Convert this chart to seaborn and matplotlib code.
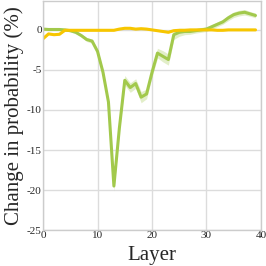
import numpy as np
import pandas as pd
import seaborn as sns
import matplotlib
matplotlib.use("Agg")
import matplotlib.pyplot as plt

layers = list(range(40))
green_vals = [0.1, 0.05, 0.05, 0.05, 0.0, -0.1, -0.3, -0.7, -1.2, -1.4,
              -2.7, -5.3, -9.0, -19.5, -12.3, -6.3, -7.2, -6.7, -8.4, -8.0,
              -5.3, -2.9, -3.3, -3.7, -0.6, -0.3, -0.2, -0.2, -0.1, 0.0,
              0.1, 0.4, 0.7, 1.0, 1.5, 1.9, 2.1, 2.2, 2.0, 1.8]
green_band = [0.15, 0.15, 0.15, 0.15, 0.15, 0.15, 0.2, 0.2, 0.25, 0.25,
              0.3, 0.3, 0.3, 0.6, 0.5, 0.6, 0.6, 0.6, 0.7, 0.6,
              0.6, 0.6, 0.7, 0.7, 0.6, 0.5, 0.4, 0.35, 0.3, 0.3,
              0.3, 0.3, 0.3, 0.3, 0.35, 0.35, 0.35, 0.35, 0.3, 0.3]
yellow_vals = [-1.1, -0.5, -0.6, -0.55, -0.05, -0.05, -0.05, -0.05, -0.05, -0.05,
               -0.05, -0.05, -0.05, -0.05, 0.1, 0.2, 0.2, 0.1, 0.15, 0.1,
               0.0, -0.1, -0.2, -0.3, -0.1, -0.05, -0.05, 0.0, 0.0, 0.0,
               0.0, 0.0, -0.05, -0.05, 0.0, 0.0, 0.0, 0.0, 0.0, 0.0]
yellow_band = [0.08] * 40

df = pd.DataFrame({"layer": layers, "green": green_vals, "yellow": yellow_vals})

sns.set_theme(style="whitegrid")
plt.rcParams["font.family"] = ["Liberation Serif", "DejaVu Serif"]

fig = plt.figure(figsize=(2.66, 2.66), dpi=100)
ax = fig.add_axes([0.162, 0.135, 0.819, 0.861])

GREEN = "#a2c94c"
YELLOW = "#f7c600"

g_lo = [v - b for v, b in zip(green_vals, green_band)]
g_hi = [v + b for v, b in zip(green_vals, green_band)]
y_lo = [v - b for v, b in zip(yellow_vals, yellow_band)]
y_hi = [v + b for v, b in zip(yellow_vals, yellow_band)]
ax.fill_between(layers, g_lo, g_hi, color=GREEN, alpha=0.3, linewidth=0)
ax.fill_between(layers, y_lo, y_hi, color=YELLOW, alpha=0.3, linewidth=0)
sns.lineplot(data=df, x="layer", y="green", color=GREEN, linewidth=2.2, ax=ax)
sns.lineplot(data=df, x="layer", y="yellow", color=YELLOW, linewidth=2.2, ax=ax)

ax.set_xlim(0, 40)
ax.set_ylim(-25, 3.6)
ax.set_xticks([0, 10, 20, 30, 40])
ax.set_yticks([0, -5, -10, -15, -20, -25])
ax.set_xticklabels(["0", "10", "20", "30", "40"])
ax.set_yticklabels(["0", "-5", "-10", "-15", "-20", "-25"])
ax.tick_params(axis="both", labelsize=8, pad=1, length=0)
ax.set_xlabel("Layer", fontsize=15, labelpad=4)
ax.set_ylabel("Change in probability (%)", fontsize=15, labelpad=2)
ax.grid(True, color="#dcdcdc", linewidth=1.0)
for s in ax.spines.values():
    s.set_color("#cccccc")
    s.set_linewidth(1.0)

fig.savefig("out.png", dpi=100)
